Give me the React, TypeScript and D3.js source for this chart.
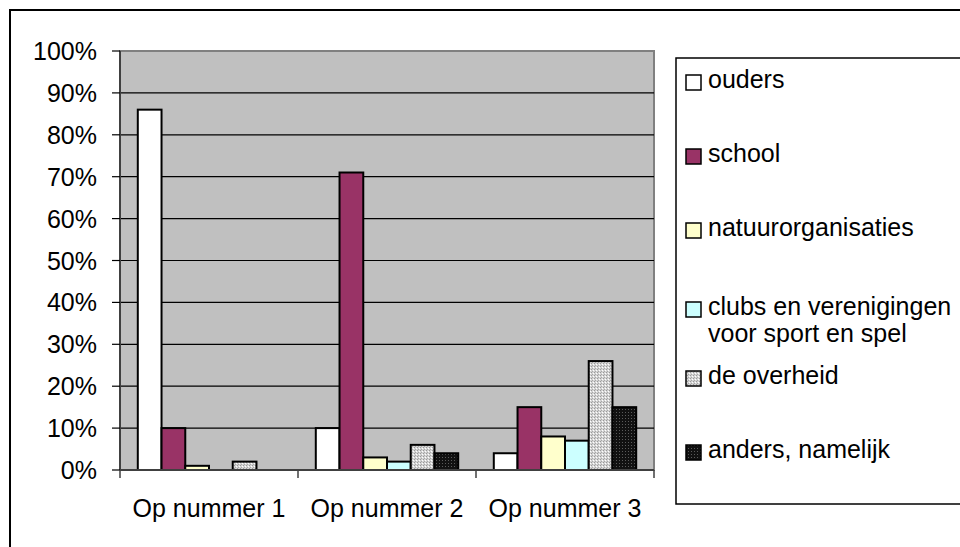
import { useMemo } from 'react';
import * as d3 from 'd3';

// Rankings (categories on the x axis)
const categories = ['Op nummer 1', 'Op nummer 2', 'Op nummer 3'];

// Series (legend entries), one value per category, in percent
const seriesNames = [
  'ouders',
  'school',
  'natuurorganisaties',
  'clubs en verenigingen\nvoor sport en spel',
  'de overheid',
  'anders, namelijk',
];
const ouders = [86, 10, 4];
const school = [10, 71, 15];
const natuur = [1, 3, 8];
const clubs = [0, 2, 7];
const overheid = [2, 6, 26];
const anders = [0, 4, 15];
const seriesValues = [ouders, school, natuur, clubs, overheid, anders];

const yTicks = [0, 10, 20, 30, 40, 50, 60, 70, 80, 90, 100];

const FILLS = ['#FFFFFF', '#993366', '#FFFFCC', '#CCFFFF', 'url(#dotsLight)', 'url(#dotsDark)'];
const FONT = '"Liberation Sans", Arial, sans-serif';

export default function App() {
  const width = 960;
  const height = 547;

  // plot area
  const plot = { left: 120, right: 654, top: 51, bottom: 470 };

  const x0 = useMemo(
    () => d3.scaleBand<string>().domain(categories).range([plot.left, plot.right]).paddingInner(0).paddingOuter(0),
    []
  );
  const x1 = useMemo(
    () =>
      d3
        .scaleBand<number>()
        .domain(d3.range(seriesNames.length))
        .range([0, x0.bandwidth()])
        .paddingInner(0)
        .paddingOuter(0.75),
    [x0]
  );
  const y = useMemo(() => d3.scaleLinear().domain([0, 100]).range([plot.bottom, plot.top]), []);

  // legend layout
  const legend = { x: 676, y: 58, bottom: 504, firstBaseline: 88, step: 74, lineHeight: 27 };

  return (
    <div style={{ position: 'absolute', left: 0, top: 0 }}>
      <svg width={width} height={height} style={{ display: 'block', background: '#fff' }} fontFamily={FONT}>
        <defs>
          <pattern id="dotsLight" width="3" height="3" patternUnits="userSpaceOnUse">
            <rect width="3" height="3" fill="#d4d4d4" />
            <rect x="0" y="0" width="1" height="1" fill="#9a9a9a" />
            <rect x="2" y="1" width="1" height="1" fill="#ffffff" />
            <rect x="1" y="2" width="1" height="1" fill="#a8a8a8" />
          </pattern>
          <pattern id="dotsDark" width="3" height="3" patternUnits="userSpaceOnUse">
            <rect width="3" height="3" fill="#111111" />
            <rect x="1" y="1" width="1" height="1" fill="#5a5a5a" />
          </pattern>
        </defs>

        {/* chart area border */}
        <rect x={10} y={10} width={980} height={560} fill="#fff" stroke="#000" strokeWidth={2} />

        {/* plot area */}
        <rect
          x={plot.left}
          y={plot.top}
          width={plot.right - plot.left}
          height={plot.bottom - plot.top}
          fill="#C0C0C0"
          stroke="#808080"
          strokeWidth={2}
        />

        {/* gridlines */}
        {yTicks
          .filter((t) => t > 0 && t < 100)
          .map((t) => (
            <line key={t} x1={plot.left} x2={plot.right} y1={y(t)} y2={y(t)} stroke="#000" strokeWidth={1.2} />
          ))}

        {/* bars */}
        {categories.map((c, ci) =>
          seriesValues.map((vals, si) => {
            const v = vals[ci];
            if (v <= 0) return null;
            const bx = (x0(c) ?? 0) + (x1(si) ?? 0);
            return (
              <rect
                key={`${ci}-${si}`}
                x={bx}
                y={y(v)}
                width={x1.bandwidth()}
                height={y(0) - y(v)}
                fill={FILLS[si]}
                stroke="#000"
                strokeWidth={2}
              />
            );
          })
        )}

        {/* y axis */}
        <line x1={plot.left} x2={plot.left} y1={plot.top} y2={plot.bottom} stroke="#404040" strokeWidth={2} />
        {yTicks.map((t) => (
          <g key={t}>
            <line x1={plot.left - 8} x2={plot.left} y1={y(t)} y2={y(t)} stroke="#000" strokeWidth={1.2} />
            <text x={97} y={y(t)} dy="0.36em" textAnchor="end" fontSize={25} fill="#000">
              {`${t}%`}
            </text>
          </g>
        ))}

        {/* x axis */}
        <line x1={plot.left} x2={plot.right} y1={plot.bottom} y2={plot.bottom} stroke="#404040" strokeWidth={2} />
        {[...categories.map((c) => x0(c) ?? 0), plot.right].map((xv, i) => (
          <line key={i} x1={xv} x2={xv} y1={plot.bottom} y2={plot.bottom + 8} stroke="#404040" strokeWidth={1.5} />
        ))}
        {categories.map((c) => (
          <text
            key={c}
            x={(x0(c) ?? 0) + x0.bandwidth() / 2}
            y={517}
            textAnchor="middle"
            fontSize={25}
            fill="#000"
          >
            {c}
          </text>
        ))}

        {/* legend */}
        <rect
          x={legend.x}
          y={legend.y}
          width={400}
          height={legend.bottom - legend.y}
          fill="#fff"
          stroke="#000"
          strokeWidth={1.5}
        />
        {seriesNames.map((name, i) => {
          const lines = name.split('\n');
          const base = legend.firstBaseline + i * legend.step + (lines.length > 1 ? 5 : 0);
          return (
            <g key={name}>
              <rect x={686} y={base - 13} width={15} height={15} fill={FILLS[i]} stroke="#000" strokeWidth={1.5} />
              <text x={708} y={base} fontSize={25} fill="#000">
                {lines.map((ln, li) => (
                  <tspan key={li} x={708} dy={li === 0 ? 0 : legend.lineHeight}>
                    {ln}
                  </tspan>
                ))}
              </text>
            </g>
          );
        })}
      </svg>
    </div>
  );
}
